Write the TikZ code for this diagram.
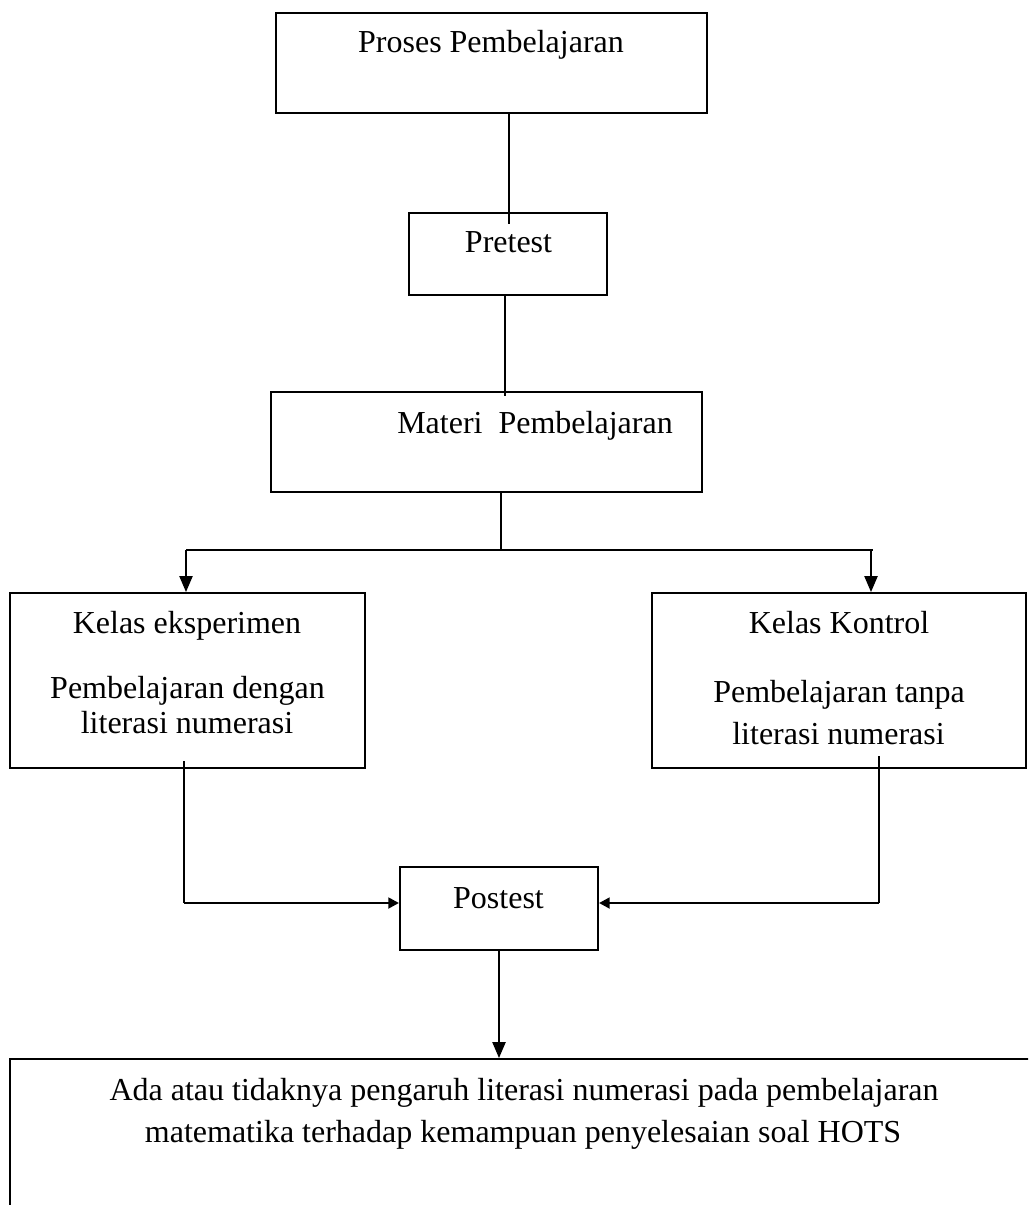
\documentclass[tikz,border=0pt]{standalone}
\usepackage{fontspec}
\setmainfont{Liberation Serif}
\usetikzlibrary{arrows.meta}
\begin{document}
\begin{tikzpicture}[x=0.75pt,y=-0.75pt,
  bx/.style 2 args={draw,line width=1.5pt,inner sep=0pt,minimum width=#1*0.75pt,minimum height=#2*0.75pt},
  txt/.style={anchor=base,inner sep=0pt,font=\fontsize{24}{28}\selectfont},
  conn/.style={line width=1pt},
  arr/.style={line width=1pt,-{Triangle[length=12pt,width=10pt]}},
  arrs/.style={line width=2pt,-{Triangle[length=8pt,width=8pt]}}]
\useasboundingbox (0,0) rectangle (1028,1205);
\clip (0,0) rectangle (1028,1205);
\fill[white] (0,0) rectangle (1028,1205);
% boxes
\node[bx={431}{100}] (proses) at (491.5,63) {};
\node[bx={198}{82}] (pretest) at (508,254) {};
\node[bx={431}{100}] (materi) at (486.5,442) {};
\node[bx={355}{175}] (kiri) at (187.5,680.5) {};
\node[bx={374}{175}] (kanan) at (839,680.5) {};
\node[bx={198}{83}] (postest) at (499,908.5) {};
\node[bx={1100}{300}] (hasil) at (560,1209) {};
% texts
\node[txt] (t1) at (491,53) {Proses Pembelajaran};
\node[txt] (t2) at (508.5,253) {Pretest};
\node[txt] (t3) at (535,433) {Materi\ \ Pembelajaran};
\node[txt] (t4) at (187,633) {Kelas eksperimen};
\node[txt] (t5) at (187.5,698) {Pembelajaran dengan};
\node[txt] (t6) at (187,733) {literasi numerasi};
\node[txt] (t7) at (839,633) {Kelas Kontrol};
\node[txt] (t8) at (839,702) {Pembelajaran tanpa};
\node[txt] (t9) at (838.5,744) {literasi numerasi};
\node[txt] (t10) at (498.5,908) {Postest};
\node[txt] (t11) at (524,1100) {Ada atau tidaknya pengaruh literasi numerasi pada pembelajaran};
\node[txt] (t12) at (523,1142) {matematika terhadap kemampuan penyelesaian soal HOTS};
% connector coordinates
\coordinate (p1) at (509,224);
\coordinate (p3) at (505,396);
\coordinate (m1) at (501,550);
\coordinate (hl) at (186,550);
\coordinate (hr) at (873,550);
\coordinate (hr2) at (871,550);
\coordinate (kl) at (184,761);
\coordinate (kl2) at (184,903);
\coordinate (kr) at (879,756);
\coordinate (kr2) at (879,903);
% connectors
\draw[conn] (proses.south -| p1) -- (p1);
\draw[conn] (pretest.south -| p3) -- (p3);
\draw[conn] (materi.south -| m1) -- (m1);
\draw[line width=1.5pt] (hl) -- (hr);
\draw[arr] (hl) -- (kiri.north -| hl);
\draw[arr] (hr2) -- (kanan.north -| hr2);
\draw[conn] (kl) -- (kl2);
\draw[arrs] (kl2) -- (postest.west |- kl2);
\draw[conn] (kr) -- (kr2);
\draw[arrs] (kr2) -- (postest.east |- kr2);
\draw[arr] (postest.south) -- (hasil.north -| postest.south);
\end{tikzpicture}
\end{document}
